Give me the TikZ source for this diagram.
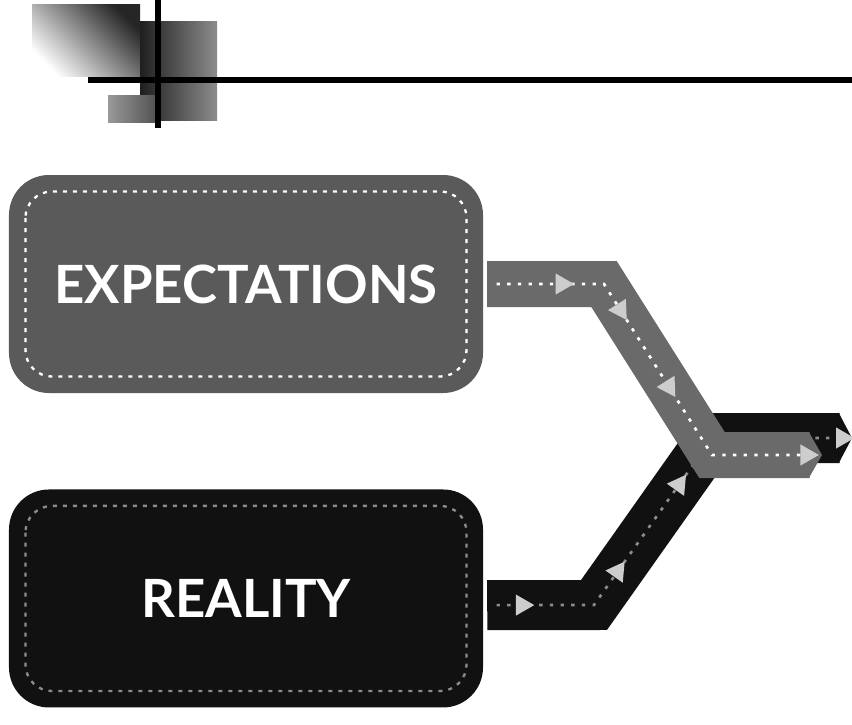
\documentclass[tikz,border=0pt]{standalone}
\usepackage{fontspec}
\setmainfont{Lato}
\usetikzlibrary{arrows.meta,positioning,shapes.geometric}
\definecolor{slate}{HTML}{5A5A5A}
\definecolor{ink}{HTML}{111111}
\definecolor{stone}{HTML}{6A6A6A}
\definecolor{seamgray}{HTML}{8C8C8C}
\definecolor{tipgray}{HTML}{CDCDCD}
\begin{document}
\begin{tikzpicture}[x=0.3mm,y=-0.3mm,
node distance=28.8mm,
card/.style={rounded corners=12mm,minimum width=142.2mm,minimum height=65.4mm,
  text=white,font=\fontsize{45}{52}\selectfont\bfseries},
stitch/.style={rounded corners=8mm,line width=0.7mm,dash pattern=on 1.2mm off 1.8mm},
band/.style={line width=#1,line join=miter,shorten <=1.2mm,
  -{Triangle[length=4mm,width=0pt 1]}},
seam/.style={line width=0.8mm,dash pattern=on 1mm off 2.2mm,shorten <=4mm,shorten >=6mm},
tri/.style={isosceles triangle,isosceles triangle apex angle=60,fill=tipgray,
  inner sep=0pt,minimum size=5.5mm,sloped}]
\useasboundingbox (0,0) rectangle (852,725);
\shade[top color=black!85,bottom color=white,shading angle=-45] (32,5) rectangle (140,77);
\shade[left color=black!88,right color=black!45] (140,22) rectangle (217,120);
\shade[left color=black!40,right color=black!70] (108,95) rectangle (160,122);
\draw[line width=1.8mm] (88,80) -- (852,80);
\draw[line width=1.8mm] (158,0) -- (158,128);
\node[card,fill=slate] (exp) at (246,284) {EXPECTATIONS};
\node[card,fill=ink,below=of exp] (real) {REALITY};
\draw[stitch,white] ([shift={(5mm,-5mm)}]exp.north west) rectangle ([shift={(-5mm,5mm)}]exp.south east);
\draw[stitch,seamgray] ([shift={(5mm,-5mm)}]real.north west) rectangle ([shift={(-5mm,5mm)}]real.south east);
\coordinate (rbend) at (594,605);
\coordinate (rjoin) at (712,438);
\coordinate (rend) at (852,438);
\coordinate (ebend) at (604,284);
\coordinate (ejoin) at (712,455);
\coordinate (eend) at (822,455);
\draw[band=15mm,draw=ink] ([yshift=-2mm]real.east) -- (rbend) -- (rjoin) -- (rend);
\draw[seam,seamgray] ([yshift=-2mm]real.east) -- node[tri,pos=.35]{} (rbend)
  -- node[tri,pos=.2]{} node[tri,pos=.72]{} (rjoin) -- node[tri,pos=.93]{} (rend);
\draw[band=13.8mm,draw=stone] (exp.east) -- (ebend) -- (ejoin) -- (eend);
\draw[seam,white] (exp.east) -- node[tri,pos=.65]{} (ebend)
  -- node[tri,pos=.15]{} node[tri,pos=.6]{} (ejoin) -- node[tri,pos=.86]{} (eend);
\end{tikzpicture}
\end{document}
